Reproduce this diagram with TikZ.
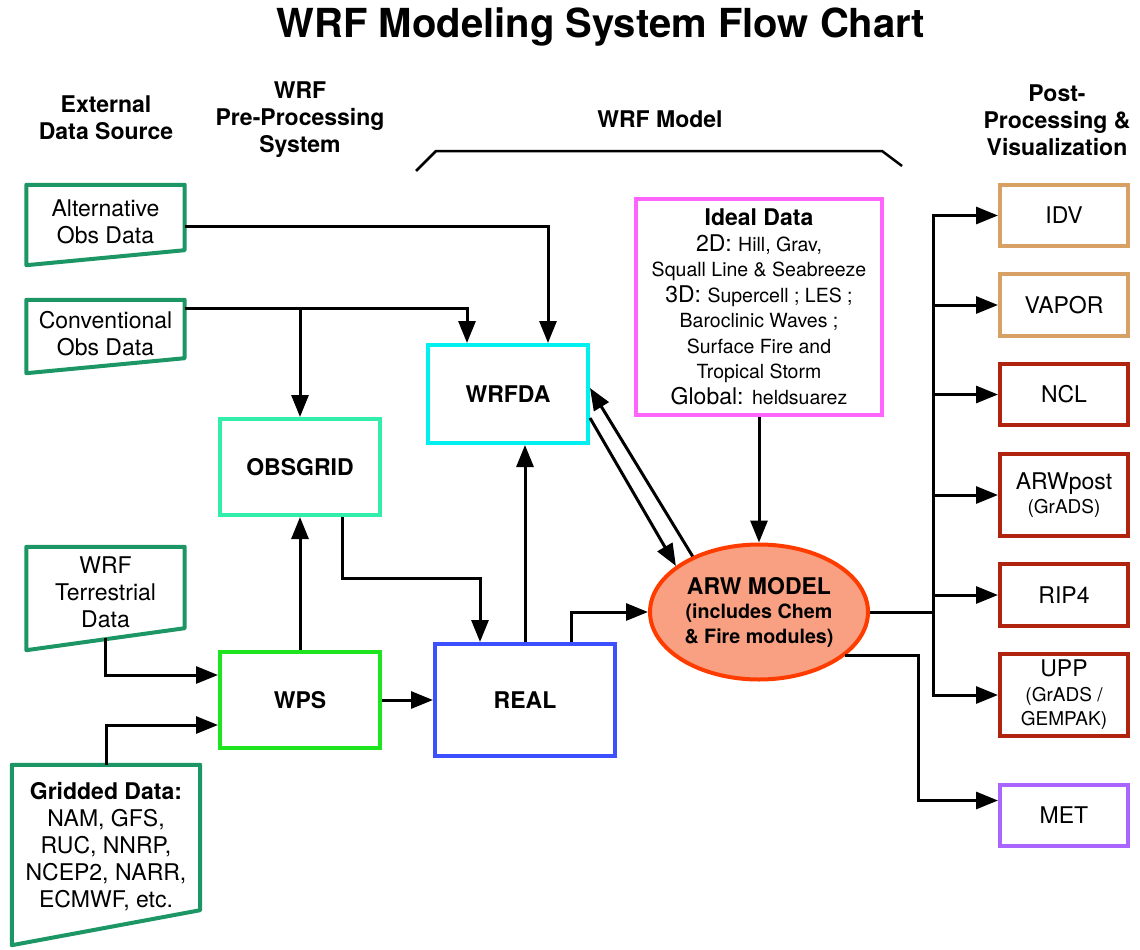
\documentclass[tikz,border=0pt]{standalone}
\usepackage{fontspec}
\setmainfont{TeX Gyre Heros}
\usepackage{tikz}
\usetikzlibrary{arrows.meta,shapes.geometric,positioning}

\definecolor{srcgreen}{RGB}{28,150,100}
\definecolor{obsgreen}{RGB}{50,238,170}
\definecolor{wpsgreen}{RGB}{30,230,30}
\definecolor{dacyan}{RGB}{0,240,240}
\definecolor{realblue}{RGB}{60,80,255}
\definecolor{idealpink}{RGB}{255,100,255}
\definecolor{arwfill}{RGB}{250,160,130}
\definecolor{arwred}{RGB}{255,60,0}
\definecolor{vistan}{RGB}{215,160,100}
\definecolor{visred}{RGB}{175,35,15}
\definecolor{metpurple}{RGB}{170,100,255}

\newcommand{\bigfont}{\fontsize{23}{27}\selectfont}
\newcommand{\smallfont}{\fontsize{19.5}{25}\selectfont}

\begin{document}
\begin{tikzpicture}[x=1pt,y=-1pt]
\tikzstyle{arr}=[line width=3pt,-{Triangle[length=22pt,width=17pt]}]
\tikzstyle{box}=[rectangle,draw,line width=4pt,align=center,font=\bigfont,inner sep=0pt]
\tikzstyle{bbox}=[box,font=\bigfont\bfseries]
\tikzstyle{vis}=[box,minimum width=128pt]
\tikzstyle{srcbox}=[rectangle,align=center,font=\bigfont,inner sep=0pt]
\tikzstyle{srcline}=[draw=srcgreen,line width=4pt,line join=round]
\tikzstyle{head}=[align=center,font=\bigfont\bfseries]
\useasboundingbox (0,0) rectangle (1140,950);

% title and headings
\node[font=\fontsize{40}{48}\selectfont\bfseries] (title) at (601,27) {WRF Modeling System Flow Chart};
\node[head] (hext) at (106,118) {External\\Data Source};
\node[head] (hpre) at (300,120) {WRF\\Pre-Processing\\System};
\node[head] (hmodel) at (660,119) {WRF Model};
\node[head] (hpost) at (1057,120) {Post-\\Processing \&\\Visualization};
\draw[line width=2.5pt] (416,171) -- (436,151) -- (882,151) -- (902,166);

% external data
\node[srcbox,minimum width=158pt,minimum height=74pt] (alt) at (105.5,222) {Alternative\\Obs Data};
\node[srcbox,minimum width=158pt,minimum height=67pt] (conv) at (105.5,333.5) {Conventional\\Obs Data};
\node[srcbox,minimum width=158pt,minimum height=91pt] (terr) at (105.5,592.5) {WRF\\Terrestrial\\Data};
\node[srcbox,minimum width=188pt,minimum height=164pt] (grid) at (106,847) {\textbf{Gridded Data:}\\NAM, GFS,\\RUC, NNRP,\\NCEP2, NARR,\\ECMWF, etc.};
\foreach \n/\l/\r in {alt/-6/9,conv/-6/9,terr/-12/10,grid/-16/19}
  \draw[srcline] (\n.north west) -- (\n.north east) -- ([yshift=\r pt]\n.south east) -- ([yshift=\l pt]\n.south west) -- cycle;

% pre-processing and model
\node[bbox,draw=obsgreen,minimum width=160pt,minimum height=96pt] (obsgrid) at (300,467) {OBSGRID};
\node[bbox,draw=wpsgreen,minimum width=160pt,minimum height=96pt] (wps) at (300,700) {WPS};
\node[bbox,draw=dacyan,minimum width=160pt,minimum height=98pt] (wrfda) at (508,394) {WRFDA};
\node[bbox,draw=realblue,minimum width=180pt,minimum height=112pt] (real) at (525,700) {REAL};
\node[box,draw=idealpink,minimum width=246pt,minimum height=216pt,font=\fontsize{23}{25.5}\selectfont] (ideal) at (759,307)
  {\textbf{Ideal Data}\\
   2D: {\smallfont Hill, Grav,}\\
   {\smallfont Squall Line \& Seabreeze}\\
   3D: {\smallfont Supercell ; LES ;}\\
   {\smallfont Baroclinic Waves ;}\\
   {\smallfont Surface Fire and}\\
   {\smallfont Tropical Storm}\\
   Global: {\smallfont heldsuarez}};
\node[ellipse,draw=arwred,fill=arwfill,line width=4pt,minimum width=218pt,minimum height=135pt,inner sep=0pt,
  align=center,font=\fontsize{19.7}{24.5}\selectfont\bfseries] (arw) at (759,612)
  {{\fontsize{23}{26}\selectfont ARW MODEL}\\(includes Chem\\\& Fire modules)};

% post-processing
\node[vis,draw=vistan,minimum height=61pt] (idv) at (1064,215.5) {IDV};
\node[vis,draw=vistan,minimum height=62pt] (vapor) at (1064,305) {VAPOR};
\node[vis,draw=visred,minimum height=61pt] (ncl) at (1064,394.5) {NCL};
\node[vis,draw=visred,minimum height=82pt,font=\fontsize{23}{24}\selectfont] (arwpost) at (1064,495) {ARWpost\\{\fontsize{19}{24}\selectfont (GrADS)}};
\node[vis,draw=visred,minimum height=62pt] (rip) at (1064,595) {RIP4};
\node[vis,draw=visred,minimum height=82pt,font=\fontsize{23}{24.5}\selectfont] (upp) at (1064,695) {UPP\\{\fontsize{19}{24}\selectfont (GrADS /}\\{\fontsize{19}{24}\selectfont GEMPAK)}};
\node[vis,draw=metpurple,minimum height=61pt] (met) at (1064,815.5) {MET};

% connectors
\coordinate (convout) at ([yshift=25pt]conv.east);
\coordinate (bus) at ([xshift=-65pt]idv.west);
\draw[arr] ([yshift=-4pt]alt.east) -| ([xshift=40pt]wrfda.north);
\draw[arr] (convout) -| ([xshift=-41pt]wrfda.north);
\draw[arr] (obsgrid.north |- convout) -- (obsgrid.north);
\draw[arr] (terr.south) |- ([yshift=25pt]wps.west);
\draw[arr] (grid.north) |- ([yshift=-25pt]wps.west);
\draw[arr] (wps.north) -- (obsgrid.south);
\draw[arr] (wps.east) -- (real.west);
\draw[arr] ([xshift=42pt]obsgrid.south) -- ++(0,61) -| ([xshift=-45pt]real.north);
\draw[arr] (real.north) -- (real.north |- wrfda.south);
\draw[arr] ([xshift=46pt]real.north) |- (arw.west);
\draw[arr] ([yshift=-24pt]wrfda.east) -- (arw.151);
\draw[arr] (arw.140) -- ([yshift=6pt]wrfda.east);
\draw[arr] (ideal.south) -- (arw.north);
\draw[arr] (arw.east) -| (bus) -- (idv.west);
\draw[arr] (arw.east) -| (bus |- upp.west) -- (upp.west);
\foreach \n in {vapor,ncl,arwpost,rip}
  \draw[arr] (bus |- \n.west) -- (\n.west);
\draw[arr] (arw.-27) -| ([xshift=-80pt,yshift=15pt]met.west) -- ([yshift=15pt]met.west);
\end{tikzpicture}
\end{document}
